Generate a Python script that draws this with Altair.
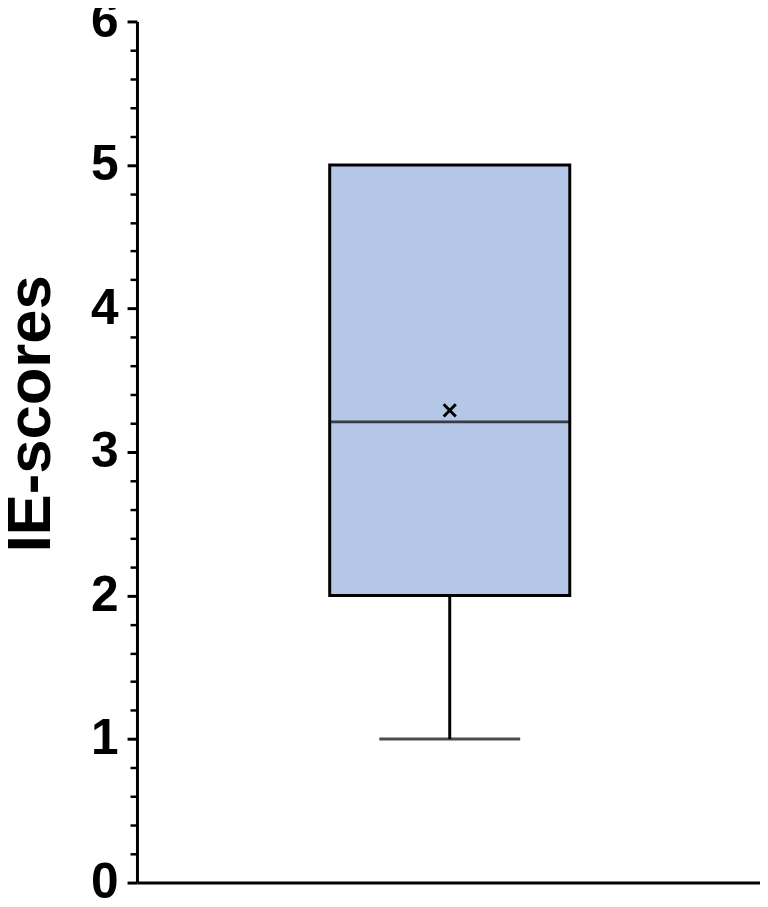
import altair as alt
import pandas as pd

# ---- data ----
groups = ["IE"]
q1 = [2.0]
q3 = [5.0]
medians = [3.21]
means = [3.29]
whisker_low = [1.0]
whisker_high = [5.0]

major_ticks = [0, 1, 2, 3, 4, 5, 6]
minor_ticks = [0.2, 0.4, 0.6, 0.8, 1.2, 1.4, 1.6, 1.8, 2.2, 2.4, 2.6, 2.8,
               3.2, 3.4, 3.6, 3.8, 4.2, 4.4, 4.6, 4.8, 5.2, 5.4, 5.6, 5.8]

df = pd.DataFrame({
    "group": groups,
    "q1": q1,
    "q3": q3,
    "median": medians,
    "mean": means,
    "lo": whisker_low,
    "hi": whisker_high,
})

FONT = "Liberation Sans"
BOX_FILL = "#B4C7E7"
LW = 3

y_scale = alt.Scale(domain=[0, 6], nice=False, zero=True)

x_enc = alt.X(
    "group:N",
    scale=alt.Scale(type="point", align=0.502, padding=0),
    axis=alt.Axis(title=None, labels=False, ticks=False, domain=True,
                  domainColor="black", domainWidth=LW, grid=False),
)

major_axis = alt.Axis(
    values=major_ticks, format="d", orient="left",
    title="IE-scores", titleFont=FONT, titleFontSize=62, titleFontWeight="bold",
    titleColor="black", titleAngle=270, titleAlign="center",
    titleBaseline="alphabetic", titleX=-88, titleY=395,
    labelFont=FONT, labelFontSize=50, labelFontWeight="bold", labelColor="black",
    labelPadding=9, tickSize=10, tickWidth=LW, tickColor="black",
    domainColor="black", domainWidth=LW, grid=False,
)

minor_axis = alt.Axis(
    values=minor_ticks, orient="left", labels=False, title=None,
    tickSize=7, tickWidth=2.5, tickColor="black", domain=False, grid=False,
)

base = alt.Chart(df)

whisker = base.mark_rule(color="black", strokeWidth=LW).encode(
    x=x_enc,
    y=alt.Y("lo:Q", scale=y_scale, axis=major_axis),
    y2="q1:Q",
)

whisker_up = base.mark_rule(color="black", strokeWidth=LW).encode(
    x=x_enc,
    y=alt.Y("q3:Q", scale=y_scale, axis=None),
    y2="hi:Q",
)

box = base.mark_bar(size=242, fill=BOX_FILL, stroke="black", strokeWidth=LW).encode(
    x=x_enc,
    y=alt.Y("q1:Q", scale=y_scale, axis=None),
    y2="q3:Q",
)

median_line = base.mark_tick(color="black", size=242, thickness=LW, orient="horizontal").encode(
    x=x_enc,
    y=alt.Y("median:Q", scale=y_scale, axis=None),
)

cap = base.mark_tick(color="black", size=142, thickness=LW, orient="horizontal").encode(
    x=x_enc,
    y=alt.Y("lo:Q", scale=y_scale, axis=None),
)

mean_mark = base.mark_point(
    shape="M-1,-1L1,1M-1,1L1,-1", filled=False, stroke="black",
    strokeWidth=LW, size=150, opacity=1,
).encode(
    x=x_enc,
    y=alt.Y("mean:Q", scale=y_scale, axis=minor_axis),
)

chart = (
    alt.layer(whisker, whisker_up, box, median_line, cap, mean_mark)
    .resolve_axis(y="independent")
    .properties(
        width=628,
        height=868,
        autosize=alt.AutoSizeParams(type="none"),
        padding={"left": 130, "top": 10, "right": 0, "bottom": 12},
        background="white",
    )
    .configure_view(stroke=None)
)

chart.save("out.html", embed_options={"renderer": "svg", "actions": False})
